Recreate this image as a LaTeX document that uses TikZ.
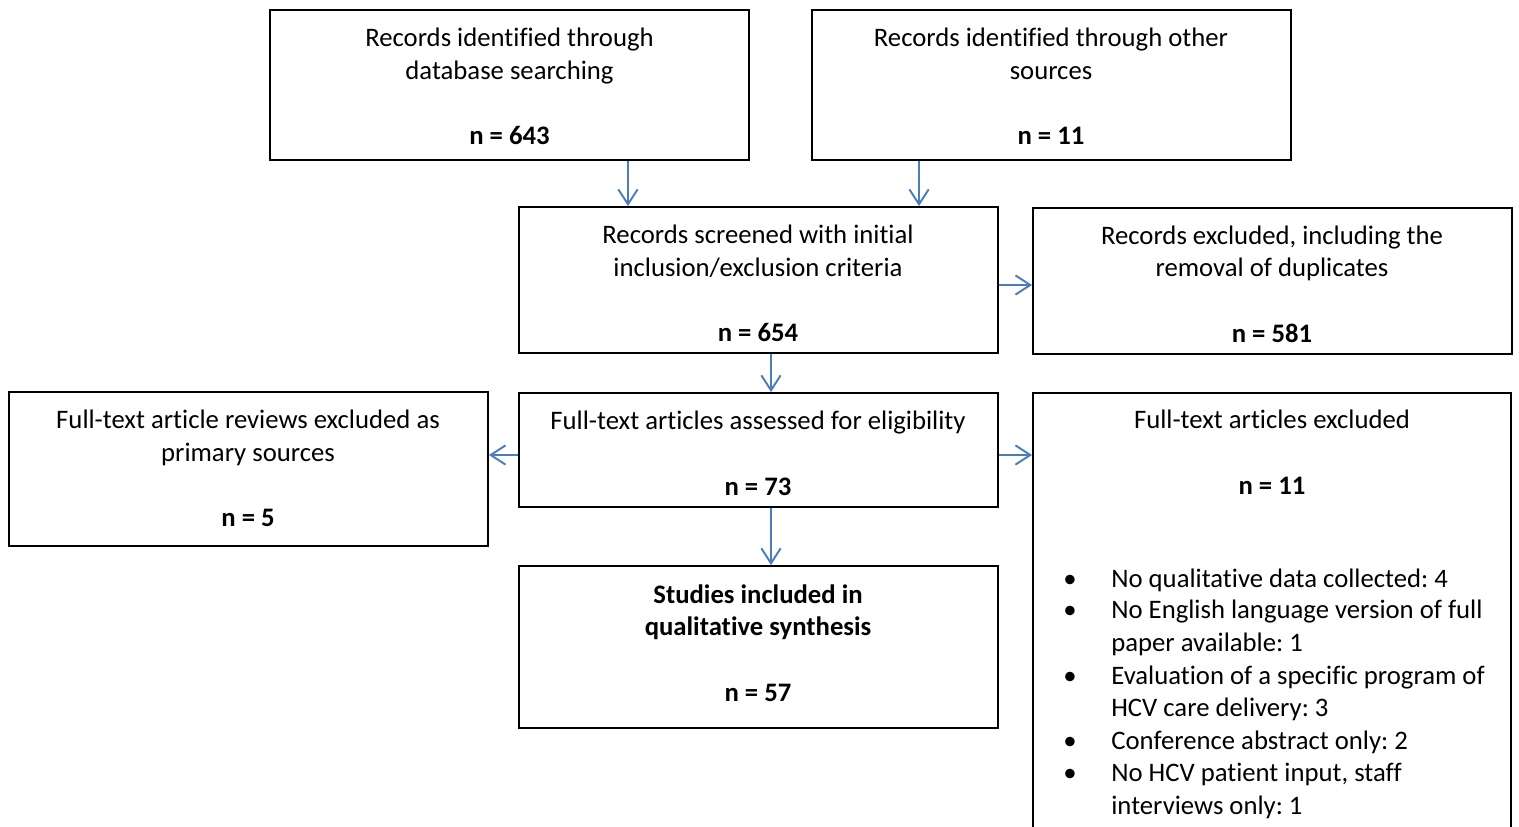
\documentclass[tikz,border=0pt]{standalone}
\usepackage{fontspec}
\setmainfont{Carlito}[Ligatures=NoCommon]
\usetikzlibrary{arrows.meta}
\definecolor{arrblue}{HTML}{4A7EBB}
\frenchspacing
\begin{document}
\begin{tikzpicture}[x=0.02cm,y=-0.02cm,
  box/.style={draw=black,line width=1.1pt,rectangle,inner sep=0pt,minimum width=9.58cm},
  ln/.style={anchor=base,inner sep=0pt,font=\fontsize{15.2}{18.7}\selectfont},
  lnw/.style={anchor=base west,inner sep=0pt,font=\fontsize{15.2}{18.7}\selectfont},
  arr/.style={draw=arrblue,line width=1.1pt,-{Straight Barb[length=8.5pt,width=11pt,line width=1.1pt]}}]
\useasboundingbox (0,0) rectangle (1519,827);
\clip (0,0) rectangle (1519,827);
% boxes
\node[box,minimum height=3cm] (A) at (509.5,85) {};
\node[box,minimum height=3cm] (B) at (1051.5,85) {};
\node[box,minimum height=2.92cm] (C) at (758.5,280) {};
\node[box,minimum height=2.92cm] (D) at (1272.5,281) {};
\node[box,minimum height=3.08cm] (E) at (248.5,469) {};
\node[box,minimum height=2.28cm] (F) at (758.5,450) {};
\node[box,minimum width=9.56cm,minimum height=9.4cm] (G) at (1272,628) {};
\node[box,minimum height=3.24cm] (H) at (758.5,647) {};
% texts
\node[ln] (a1) at (509.5,47) {Records identified through};
\node[ln] (a2) at (509.5,80) {database searching};
\node[ln] (a3) at (509.5,145) {\textbf{n = 643}};
\node[ln] (b1) at (1051,47) {Records identified through other};
\node[ln] (b2) at (1051,80) {sources};
\node[ln] (b3) at (1051,145) {\textbf{n = 11}};
\node[ln] (c1) at (758,244) {Records screened with initial};
\node[ln] (c2) at (758,277) {inclusion/exclusion criteria};
\node[ln] (c3) at (758,342) {\textbf{n = 654}};
\node[ln] (d1) at (1272,245) {Records excluded, including the};
\node[ln] (d2) at (1272,277) {removal of duplicates};
\node[ln] (d3) at (1272,343) {\textbf{n = 581}};
\node[ln] (e1) at (248,429) {Full-text article reviews excluded as};
\node[ln] (e2) at (248,462) {primary sources};
\node[ln] (e3) at (248,527) {\textbf{n = 5}};
\node[ln] (f1) at (758,430) {Full-text articles assessed for eligibility};
\node[ln] (f2) at (758,496) {\textbf{n = 73}};
\node[ln] (g1) at (1272,429) {Full-text articles excluded};
\node[ln] (g2) at (1272,495) {\textbf{n = 11}};
\node[ln] (h1) at (758,603) {\textbf{Studies included in}};
\node[ln] (h2) at (758,636) {\textbf{qualitative synthesis}};
\node[ln] (h3) at (758,701) {\textbf{n = 57}};
% bullets
\node[ln] (bu1) at (1070,587) {•};
\node[ln] (bu2) at (1070,619) {•};
\node[ln] (bu3) at (1070,684) {•};
\node[ln] (bu4) at (1070,749) {•};
\node[ln] (bu5) at (1070,781) {•};
\node[lnw] (t1) at (1111,587) {No qualitative data collected: 4};
\node[lnw] (t2) at (1111,619) {No English language version of full};
\node[lnw] (t3) at (1111,651) {paper available: 1};
\node[lnw] (t4) at (1111,684) {Evaluation of a specific program of};
\node[lnw] (t5) at (1111,716) {HCV care delivery: 3};
\node[lnw] (t6) at (1111,749) {Conference abstract only: 2};
\node[lnw] (t7) at (1111,781) {No HCV patient input, staff};
\node[lnw] (t8) at (1111,814) {interviews only: 1};
% arrows
\draw[arr] ([xshift=2.37cm]A.south) -- ([xshift=2.37cm]A.south |- C.north);
\draw[arr] ([xshift=-2.65cm]B.south) -- ([xshift=-2.65cm]B.south |- C.north);
\draw[arr] ([yshift=-0.1cm]C.east) -- ([yshift=-0.1cm]C.east -| D.west);
\draw[arr] ([xshift=0.25cm]C.south) -- ([xshift=0.25cm]C.south |- F.north);
\draw[arr] ([yshift=-0.1cm]F.west) -- ([yshift=-0.1cm]F.west -| E.east);
\draw[arr] ([yshift=-0.1cm]F.east) -- ([yshift=-0.1cm]F.east -| G.west);
\draw[arr] ([xshift=0.25cm]F.south) -- ([xshift=0.25cm]F.south |- H.north);
\end{tikzpicture}
\end{document}
